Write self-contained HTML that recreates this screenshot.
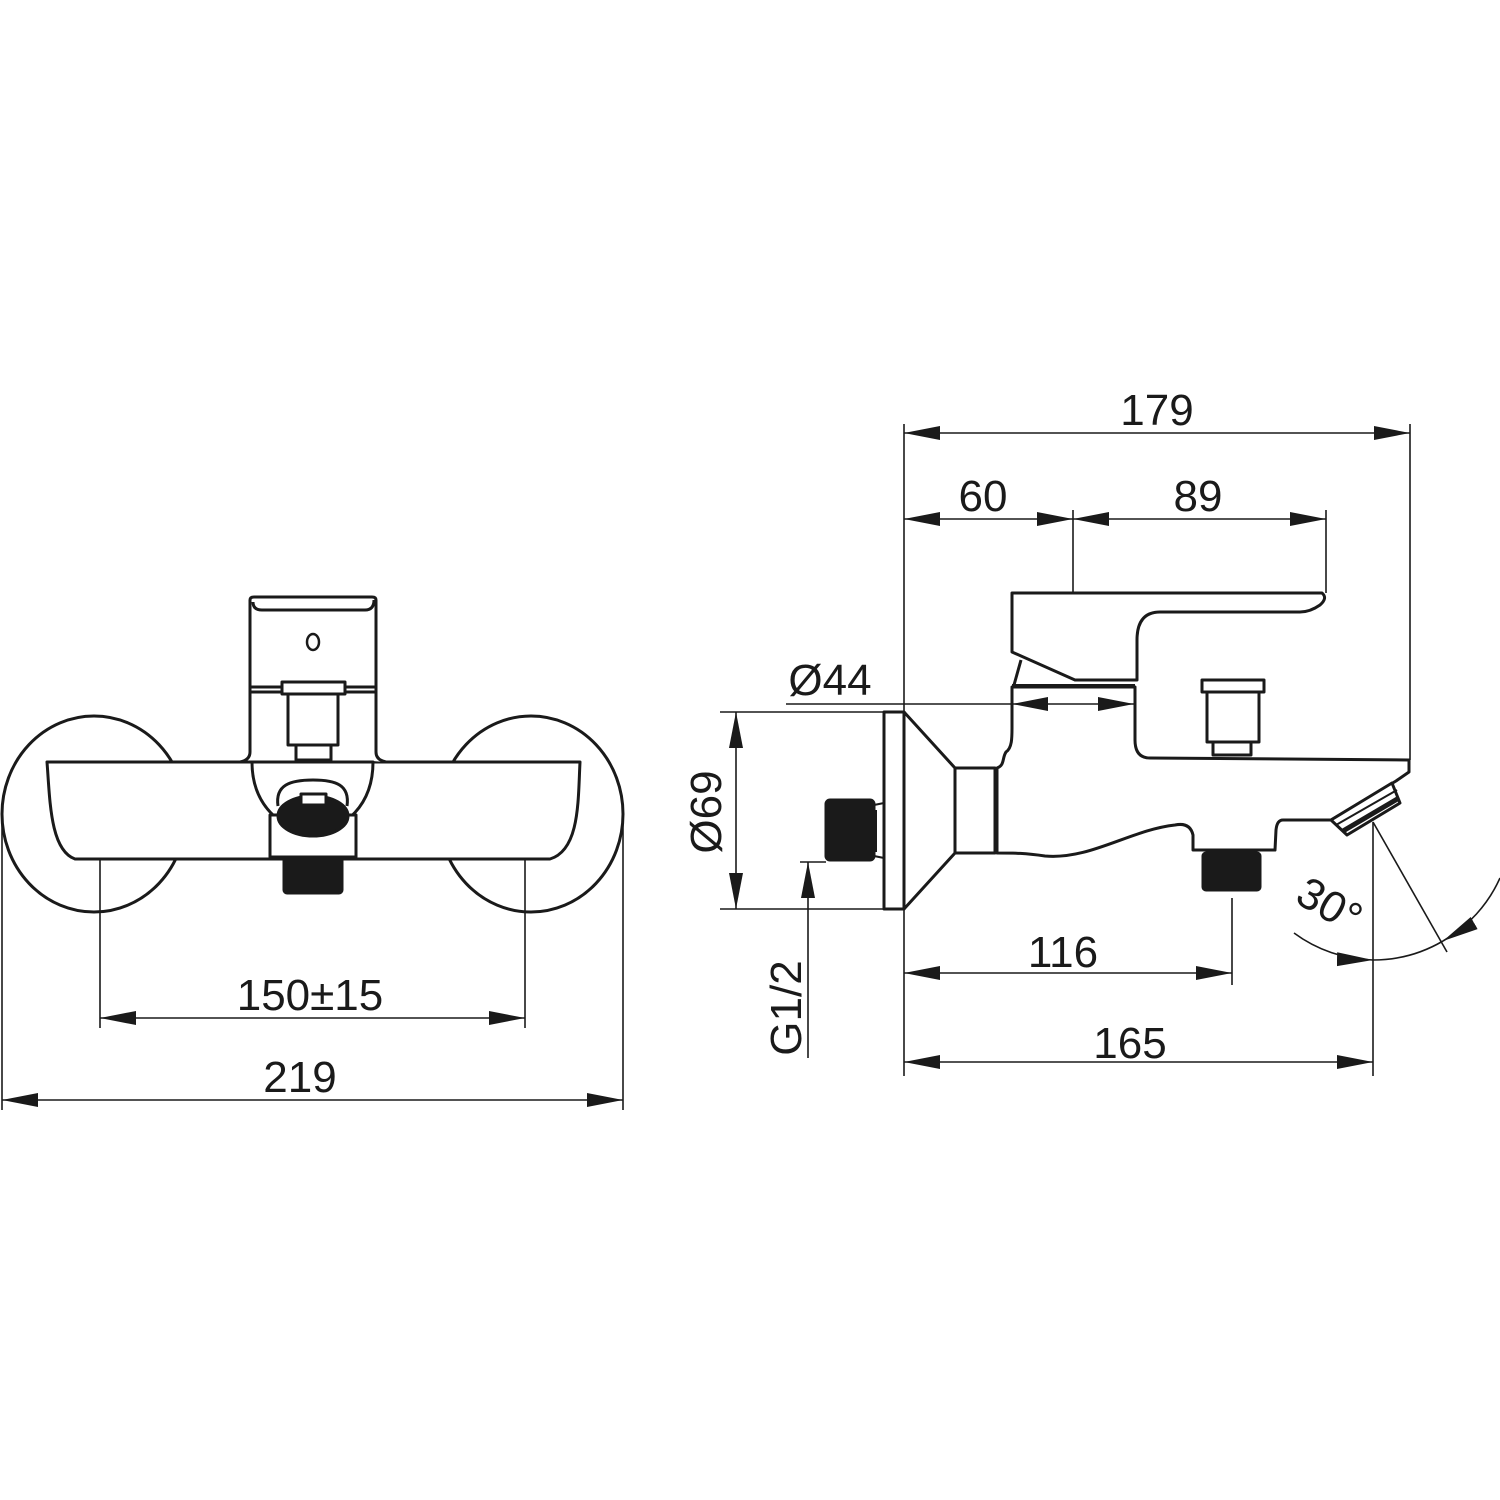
<!DOCTYPE html>
<html><head><meta charset="utf-8"><style>
html,body{margin:0;padding:0;background:#fff}
svg{display:block}
text{font-family:"Liberation Sans",Arial,sans-serif;font-size:44px;fill:#1a1a1a}
</style></head><body>
<svg width="1500" height="1500" viewBox="0 0 1500 1500" xmlns="http://www.w3.org/2000/svg">
<defs>
<marker id="a" markerUnits="userSpaceOnUse" markerWidth="40" markerHeight="16" refX="36" refY="7" orient="auto-start-reverse"><path d="M0,0 L36,7 L0,14 z" fill="#1a1a1a"/></marker>
</defs>
<g fill="none" stroke="#1a1a1a" stroke-width="3" stroke-linejoin="round">
<ellipse cx="94" cy="814" rx="92" ry="98"/>
<ellipse cx="531" cy="814" rx="92" ry="98"/>
<path d="M47,762 L580,762 C578,800 580,850 550,859 L75,859 C50,850 50,800 47,762 Z" fill="#fff"/>
<path d="M250,752 L250,600 Q250,597 254,597 L372,597 Q376,597 376,600 L376,752 Q376,760 386,762" fill="#fff"/>
<path d="M250,752 Q250,760 240,762"/>
<path d="M253,602 Q253,610 262,610 L365,610 Q374,610 374,600"/>
<line x1="250" y1="687" x2="376" y2="687"/>
<line x1="250" y1="692" x2="376" y2="692"/>
<ellipse cx="313" cy="642" rx="6" ry="8" stroke-width="2.5"/>
<rect x="282" y="682" width="63" height="12" fill="#fff"/>
<rect x="288" y="694" width="50" height="51" fill="#fff"/>
<rect x="296" y="745" width="35" height="15"/>
<path d="M252,762 L373,762 C373,805 345,830 313,833 C281,830 252,805 252,762 Z" fill="#fff"/>
<rect x="270" y="815" width="86" height="42" fill="#fff"/>
<path d="M278,806 C275,785 290,780 313,780 C336,780 350,785 347,806" />
<ellipse cx="313" cy="816" rx="35" ry="20" fill="#1a1a1a"/>
<rect x="301" y="794" width="25" height="11" fill="#fff"/>
<rect x="284" y="857" width="58" height="36" fill="#1a1a1a" rx="3"/>
<rect x="884" y="712" width="20" height="197" fill="#fff"/>
<path d="M904,712 L955,768 L955,853 L904,909"/>
<rect x="955" y="768" width="40" height="85"/>
<path d="M997,768 C1005,765 1002,758 1006,752 C1012,748 1012,738 1012,728 L1012,687 L1135,687 L1135,740 Q1135,758 1150,758 L1409,760 L1409,772 L1396,781 L1331,820 L1283,820 Q1277,820 1276,830 L1275,850 L1193,850 L1193,835 Q1190,822 1175,825 C1130,830 1090,860 1045,856 C1025,853 1015,853 997,853 Z" fill="#fff"/>
<path d="M1012,593 L1322,593 Q1328,598 1320,605 Q1310,612 1300,612 L1160,612 Q1137,612 1137,640 L1137,680 L1075,680 L1012,652 Z" fill="#fff"/>
<line x1="1021" y1="660" x2="1014" y2="685"/>
<line x1="1012" y1="686" x2="1135" y2="686" stroke-width="4"/>
<rect x="1202" y="680" width="62" height="12"/>
<rect x="1207" y="692" width="52" height="50"/>
<rect x="1213" y="742" width="38" height="13"/>
<path d="M1331,820 L1347,835 L1400,803 L1392,783 Z" fill="#fff"/>
<line x1="1336" y1="825" x2="1397" y2="790" stroke-width="2"/>
<line x1="1343" y1="831" x2="1399" y2="798" stroke-width="5"/>
<rect x="1203" y="853" width="57" height="37" fill="#1a1a1a" rx="3"/>
<rect x="826" y="800" width="48" height="60" fill="#1a1a1a" rx="4"/>
<path d="M874,805 L884,803 M874,856 L884,858 M876,810 L876,852" stroke-width="2"/>
</g>
<g fill="none" stroke="#1a1a1a" stroke-width="1.6">
<line x1="100" y1="860" x2="100" y2="1028"/>
<line x1="525" y1="860" x2="525" y2="1028"/>
<line x1="2" y1="820" x2="2" y2="1110"/>
<line x1="623" y1="820" x2="623" y2="1110"/>
<line x1="100" y1="1018" x2="525" y2="1018" marker-start="url(#a)" marker-end="url(#a)"/>
<line x1="2" y1="1100" x2="623" y2="1100" marker-start="url(#a)" marker-end="url(#a)"/>
<line x1="904" y1="424" x2="904" y2="712"/>
<line x1="904" y1="909" x2="904" y2="1076"/>
<line x1="1410" y1="424" x2="1410" y2="760"/>
<line x1="1073" y1="510" x2="1073" y2="593"/>
<line x1="1326" y1="510" x2="1326" y2="593"/>
<line x1="904" y1="433" x2="1410" y2="433" marker-start="url(#a)" marker-end="url(#a)"/>
<line x1="904" y1="519" x2="1073" y2="519" marker-start="url(#a)" marker-end="url(#a)"/>
<line x1="1073" y1="519" x2="1326" y2="519" marker-start="url(#a)" marker-end="url(#a)"/>
<line x1="786" y1="704" x2="1012" y2="704"/>
<line x1="1073" y1="704" x2="1012" y2="704" marker-end="url(#a)"/>
<line x1="1073" y1="704" x2="1134" y2="704" marker-end="url(#a)"/>
<line x1="720" y1="712" x2="884" y2="712"/>
<line x1="720" y1="909" x2="884" y2="909"/>
<line x1="736" y1="712" x2="736" y2="909" marker-start="url(#a)" marker-end="url(#a)"/>
<line x1="800" y1="862" x2="826" y2="862"/>
<line x1="808" y1="1058" x2="808" y2="862" marker-end="url(#a)"/>
<line x1="1232" y1="898" x2="1232" y2="985"/>
<line x1="904" y1="973" x2="1232" y2="973" marker-start="url(#a)" marker-end="url(#a)"/>
<line x1="1373" y1="822" x2="1373" y2="1076"/>
<line x1="904" y1="1062" x2="1373" y2="1062" marker-start="url(#a)" marker-end="url(#a)"/>
<line x1="1373" y1="822" x2="1447" y2="952"/>
<path d="M1294,933 A138,138 0 0 0 1373,960" marker-end="url(#a)"/>
<path d="M1373,960 A138,138 0 0 0 1443,941"/>
<path d="M1500,878 A138,138 0 0 1 1443,941" marker-end="url(#a)"/>
</g>
<g>
<text x="310" y="1010" text-anchor="middle">150±15</text>
<text x="300" y="1092" text-anchor="middle">219</text>
<text x="1157" y="425" text-anchor="middle">179</text>
<text x="983" y="511" text-anchor="middle">60</text>
<text x="1198" y="511" text-anchor="middle">89</text>
<text x="830" y="695" text-anchor="middle">Ø44</text>
<text x="1063" y="967" text-anchor="middle">116</text>
<text x="1130" y="1058" text-anchor="middle">165</text>
<text transform="translate(721,812) rotate(-90)" text-anchor="middle">Ø69</text>
<text transform="translate(801,1008) rotate(-90)" text-anchor="middle">G1/2</text>
<text transform="translate(1322,918) rotate(30)" text-anchor="middle">30°</text>
</g>
</svg>
</body></html>
